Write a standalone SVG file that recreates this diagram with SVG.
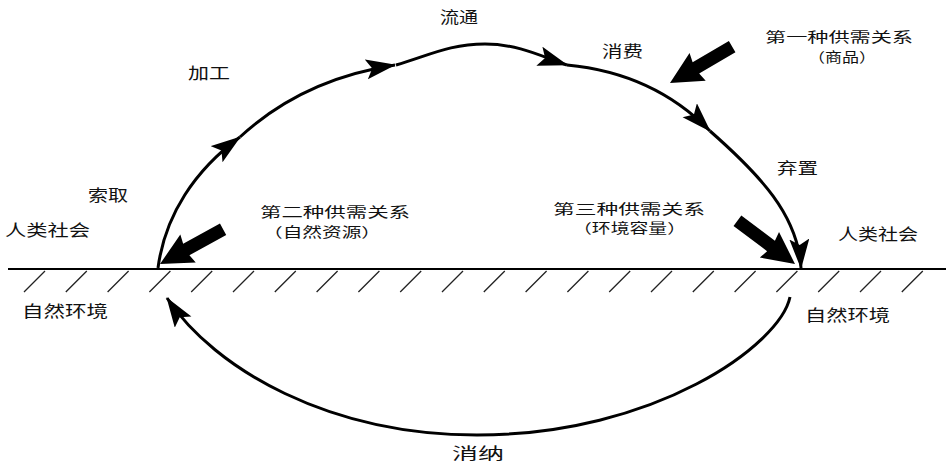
<svg xmlns="http://www.w3.org/2000/svg" width="946" height="463" viewBox="0 0 946 463">
<style>
text{font-family:"Noto Sans CJK SC","Noto Sans",sans-serif;font-size:16px;fill:#111;}
.s{font-size:13.4px;}
.c{fill:none;stroke:#000;stroke-width:3;}
.h{fill:none;stroke:#222;stroke-width:1.3;}
.ba{fill:#000;}
</style>
<defs>
<marker id="ah" markerUnits="userSpaceOnUse" markerWidth="32" markerHeight="22" refX="29" refY="10" orient="auto">
<path d="M0,0 L30,10 L0,20 L6,10 Z" fill="#000"/>
</marker>
<path id="big" d="M-72,-6.5 L-30,-6.5 L-32,-16 L0,0 L-32,16 L-30,6.5 L-72,6.5 Z"/>
</defs>
<g id="ground">
<line x1="8" y1="269" x2="946" y2="269" stroke="#000" stroke-width="2"/>
<path class="h" d="M24,292 l21,-21 M65.8,292 l21,-21 M107.6,292 l21,-21 M149.4,292 l21,-21 M191.2,292 l21,-21 M233,292 l21,-21 M274.8,292 l21,-21 M316.6,292 l21,-21 M358.4,292 l21,-21 M400.2,292 l21,-21 M442,292 l21,-21 M483.8,292 l21,-21 M525.6,292 l21,-21 M567.4,292 l21,-21 M609.2,292 l21,-21 M651,292 l21,-21 M692.8,292 l21,-21 M734.6,292 l21,-21 M776.4,292 l21,-21 M818.2,292 l21,-21 M860,292 l21,-21 M901.8,292 l21,-21"/>
</g>
<g id="connectors">
<path class="c" d="M158,268 C165,215 195,170 240,137" marker-end="url(#ah)"/>
<path class="c" d="M240,137 C280,100 330,75 395,65" marker-end="url(#ah)"/>
<path class="c" d="M396,65 C430,55 450,44 485,44 C520,44 545,58 567,65" marker-end="url(#ah)"/>
<path class="c" d="M567,65 C620,70 670,90 710,131" marker-end="url(#ah)"/>
<path class="c" d="M710,131 C760,175 798,215 801,268" marker-end="url(#ah)"/>
<path class="c" d="M790,297 C780,345 655,435 477,435 C330,435 215,370 167,298" marker-end="url(#ah)"/>
<use href="#big" class="ba" transform="translate(670,83) rotate(149.7)"/>
<use href="#big" class="ba" transform="translate(160,264) rotate(151.2)"/>
<use href="#big" class="ba" transform="translate(795,264) rotate(36.9)"/>
</g>
<g id="labels">
<text x="440" y="23" textLength="38" lengthAdjust="spacingAndGlyphs">流通</text>
<text x="188" y="79" textLength="42" lengthAdjust="spacingAndGlyphs">加工</text>
<text x="602" y="57" textLength="41" lengthAdjust="spacingAndGlyphs">消费</text>
<text x="777" y="174" textLength="41" lengthAdjust="spacingAndGlyphs">弃置</text>
<text x="88" y="201" textLength="40" lengthAdjust="spacingAndGlyphs">索取</text>
<text x="452" y="459" textLength="52" lengthAdjust="spacingAndGlyphs">消纳</text>
</g>
<g id="node-society-left"><text x="5" y="236" textLength="85" lengthAdjust="spacingAndGlyphs">人类社会</text></g>
<g id="node-society-right"><text x="838" y="240" textLength="80" lengthAdjust="spacingAndGlyphs">人类社会</text></g>
<g id="node-nature-left"><text x="22" y="317" textLength="86" lengthAdjust="spacingAndGlyphs">自然环境</text></g>
<g id="node-nature-right"><text x="805" y="321" textLength="85" lengthAdjust="spacingAndGlyphs">自然环境</text></g>
<g id="node-sd1">
<text class="s" x="765" y="42" textLength="148" lengthAdjust="spacingAndGlyphs">第一种供需关系</text>
<text class="s" x="808" y="61.5" textLength="68" lengthAdjust="spacingAndGlyphs">（商品）</text>
</g>
<g id="node-sd2">
<text class="s" x="260" y="217" textLength="150" lengthAdjust="spacingAndGlyphs">第二种供需关系</text>
<text class="s" x="263" y="236.5" textLength="118" lengthAdjust="spacingAndGlyphs">（自然资源）</text>
</g>
<g id="node-sd3">
<text class="s" x="553" y="213.5" textLength="152" lengthAdjust="spacingAndGlyphs">第三种供需关系</text>
<text class="s" x="573" y="233" textLength="113" lengthAdjust="spacingAndGlyphs">（环境容量）</text>
</g>
</svg>
